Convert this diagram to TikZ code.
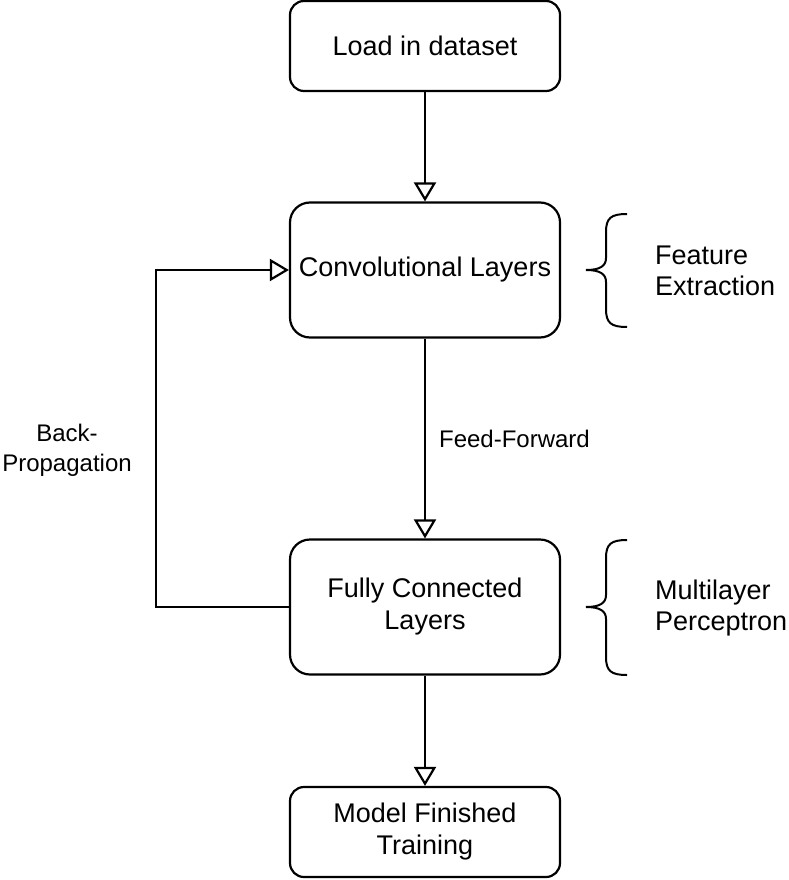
\documentclass[tikz,border=0pt]{standalone}
\usepackage{fontspec}
\setmainfont{Liberation Sans}
\usetikzlibrary{arrows.meta}
\begin{document}
\begin{tikzpicture}
  [x=1pt, y=-1pt, line width=2.2pt,
   box/.style={draw, rounded corners=20pt, minimum width=270pt, minimum height=135pt,
     align=center, inner sep=0pt, font=\fontsize{27}{32}\selectfont},
   smallbox/.style={box, rounded corners=14pt, minimum height=90pt},
   flow/.style={-{Triangle[open, length=19pt, width=22pt]}},
   note/.style={align=left, inner sep=0pt, anchor=west, font=\fontsize{27}{31}\selectfont},
   edgelabel/.style={align=center, inner sep=0pt, font=\fontsize{24}{30}\selectfont}]
  \useasboundingbox (0,0) rectangle (788,880);
  \node[smallbox] (load) at (425,46)  {Load in dataset};
  \node[box]      (conv) at (425,270) {Convolutional Layers};
  \node[box]      (fc)   at (425,607) {Fully Connected\\Layers};
  \node[smallbox] (done) at (425,832) {Model Finished\\Training};
  \coordinate (bp) at (156,607);
  \draw[flow] (load) -- (conv);
  \draw[flow] (conv) -- node[edgelabel, anchor=west, xshift=13pt] (ff) {Feed-Forward} (fc);
  \draw[flow] (fc) -- (done);
  \draw[flow] (fc.west) -- (bp) |- (conv.west);
  \node[edgelabel] (back) at (67,450) {Back-\\Propagation};
  % braces
  \draw[line width=2pt] (627,214) .. controls (611,214) and (606,218) .. (606,232) -- (606,258)
    .. controls (606,266) and (600,270) .. (586,270) .. controls (600,270) and (606,274) .. (606,282)
    -- (606,309) .. controls (606,323) and (611,327) .. (627,327);
  \draw[line width=2pt] (627,540) .. controls (611,540) and (606,544) .. (606,558) -- (606,595)
    .. controls (606,603) and (600,607) .. (586,607) .. controls (600,607) and (606,611) .. (606,619)
    -- (606,657) .. controls (606,671) and (611,675) .. (627,675);
  \node[note] (feat) at (654,271) {Feature\\Extraction};
  \node[note] (mlp)  at (654,608) {Multilayer\\Perceptron};
\end{tikzpicture}
\end{document}
